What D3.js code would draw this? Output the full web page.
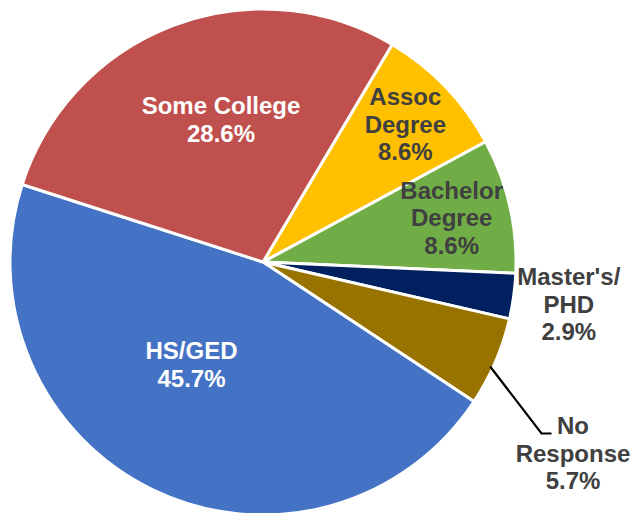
<!DOCTYPE html>
<html><head><meta charset="utf-8">
<script src="https://cdn.jsdelivr.net/npm/d3@7"></script>
<style>html,body{margin:0;padding:0;background:#fff;}svg{display:block;}</style>
</head><body>
<svg id="chart" width="631" height="513"></svg>
<script>
const categories = ["Assoc Degree", "Bachelor Degree", "Master's/ PHD", "No Response", "HS/GED", "Some College"];
const values = [8.6, 8.6, 2.9, 5.7, 45.7, 28.6];
const labelLines = [["Assoc","Degree","8.6%"],["Bachelor","Degree","8.6%"],["Master's/","PHD","2.9%"],["No","Response","5.7%"],["HS/GED","45.7%"],["Some College","28.6%"]];
const colors = ["#FFC000","#70AD47","#002060","#997300","#4472C4","#C0504D"];
const textColors = ["#404040","#404040","#404040","#404040","#ffffff","#ffffff"];

const svg = d3.select("#chart");
const cx = 263, cy = 262, R = 253;
const g = svg.append("g").attr("transform", `translate(${cx},${cy})`);
const start = 30.7 * Math.PI / 180;
const pie = d3.pie().sort(null).value(d => d).startAngle(start).endAngle(start + 2*Math.PI);
const arcs = pie(values);
const arc = d3.arc().innerRadius(0).outerRadius(R);

g.selectAll("path.slice").data(arcs).join("path")
  .attr("class","slice")
  .attr("d", arc)
  .attr("fill", (d,i) => colors[i])
  .attr("stroke", "#fff").attr("stroke-width", 3).attr("stroke-linejoin","round");

const layout = [
  {r:0.78, dx:0, dy:-1},
  {r:0.765, dx:0, dy:-1},
  {r:1.2, dx:5, dy:1},
  {r:1.44, dx:0, dy:0},
  {r:0.5, dx:0, dy:0},
  {r:0.593, dx:10.5, dy:-3}
];
const lineH = 27.5;
function labelPos(d, i) {
  const a = (d.startAngle + d.endAngle) / 2;
  const L = layout[i];
  return [Math.sin(a) * R * L.r + L.dx, -Math.cos(a) * R * L.r + L.dy];
}
const fixed = {3: [310, 191], 4: [-71.5, 102.5], 5: [-42, -142.5]};

arcs.forEach((d, i) => {
  let [x, y] = fixed[i] ? fixed[i] : labelPos(d, i);
  const lines = labelLines[i];
  const t = g.append("text")
    .attr("text-anchor","middle")
    .attr("font-family","Liberation Sans, Arial, sans-serif")
    .attr("font-weight","bold")
    .attr("font-size", 24)
    .attr("fill", textColors[i]);
  lines.forEach((ln, k) => {
    t.append("tspan")
      .attr("x", x)
      .attr("y", y + (k - (lines.length-1)/2) * lineH + 8.5)
      .text(ln);
  });
});

const aLine = 114.7 * Math.PI / 180;
const p0 = [Math.sin(aLine) * (R - 3), -Math.cos(aLine) * (R - 3)];
const p1 = [278.5, 171.5];
const p2 = [288.5, 171.5];
g.append("polyline")
  .attr("points", [p0, p1, p2].map(p => p.join(",")).join(" "))
  .attr("fill","none").attr("stroke","#000").attr("stroke-width",2.2);
</script>
</body></html>
